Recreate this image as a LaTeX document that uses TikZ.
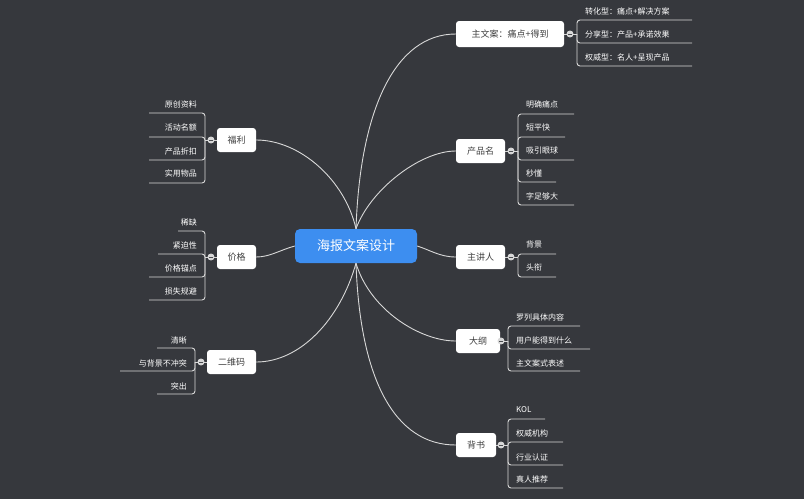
\documentclass[tikz,border=0pt]{standalone}
\usepackage{fontspec}
\setmainfont{Noto Sans CJK SC}
\definecolor{bg}{HTML}{36383D}
\definecolor{ln}{HTML}{D8D8D8}
\definecolor{cb}{HTML}{3D8EF0}
\tikzset{
 topic/.style={draw=none,fill=white,rounded corners=3pt,text=black!75,font=\fontsize{9}{10}\selectfont,inner xsep=0pt,inner ysep=0pt},
 leaf/.style={text=white,font=\fontsize{8}{9}\selectfont,inner sep=0pt},
 wire/.style={draw=ln,line width=0.9pt},
 knob/.style={circle,draw=ln,fill=ln,line width=0.9pt,minimum size=6pt,inner sep=0pt}
}
\newcommand{\rch}[6]{\node[leaf,anchor=west] (r#6) at (#1+8,#3) {#6};
 \draw[wire,rounded corners=3pt] (#1,#2) -- (#1,#4) -- (#5,#4);}
\newcommand{\lch}[6]{\node[leaf,anchor=east] (l#6) at (#1-8,#3) {#6};
 \draw[wire,rounded corners=3pt] (#1,#2) -- (#1,#4) -- (#5,#4);}
\newcommand{\knobat}[2]{\node[knob] (k#1#2) at (#1,#2) {}; \draw[bg!90,line width=0.8pt] (#1-1.8,#2) -- (#1+1.8,#2);}
\begin{document}
\begin{tikzpicture}[x=1pt,y=-1pt]
\fill[bg] (0,0) rectangle (804,499);
\useasboundingbox (0,0) rectangle (804,499);
\node[fill=cb,rounded corners=5pt,text=white,font=\fontsize{13}{15}\selectfont,minimum width=122pt,minimum height=34pt,inner sep=0pt] (c) at (356,246) {海报文案设计};
% topics
\node[topic,minimum width=108pt,minimum height=26pt] (t1) at (510,34) {主文案：痛点+得到};
\node[topic,minimum width=49pt,minimum height=24pt] (t2) at (480.5,151) {产品名};
\node[topic,minimum width=49pt,minimum height=24pt] (t3) at (480.5,257) {主讲人};
\node[topic,minimum width=44pt,minimum height=24pt] (t4) at (478,341) {大纲};
\node[topic,minimum width=40pt,minimum height=24pt] (t5) at (476,445) {背书};
\node[topic,minimum width=39pt,minimum height=24pt] (t6) at (236.5,140) {福利};
\node[topic,minimum width=39pt,minimum height=24pt] (t7) at (236.5,257) {价格};
\node[topic,minimum width=49pt,minimum height=24pt] (t8) at (231.5,362) {二维码};
% main curves
\draw[wire] (c.north) .. controls (360,110) and (395,34) .. (t1.west);
\draw[wire] (c.north) .. controls (370,190) and (420,151) .. (t2.west);
\draw[wire] (c.east) .. controls (430,250) and (440,257) .. (t3.west);
\draw[wire] (c.south) .. controls (370,310) and (420,341) .. (t4.west);
\draw[wire] (c.south) .. controls (360,380) and (395,445) .. (t5.west);
\draw[wire] (c.north) .. controls (345,180) and (300,140) .. (t6.east);
\draw[wire] (c.west) .. controls (280,250) and (270,257) .. (t7.east);
\draw[wire] (c.south) .. controls (340,320) and (300,362) .. (t8.east);
% right children
\draw[wire] (t1.east) -- (577,34);
\rch{577}{34}{11}{20}{692}{转化型：痛点+解决方案}
\rch{577}{34}{34}{43}{692}{分享型：产品+承诺效果}
\rch{577}{34}{57}{66}{692}{权威型：名人+呈现产品}
\knobat{570}{34}
\draw[wire] (t2.east) -- (518,151);
\rch{518}{151}{104}{114}{574}{明确痛点}
\rch{518}{151}{127}{137}{565}{短平快}
\rch{518}{151}{150}{160}{574}{吸引眼球}
\rch{518}{151}{173}{182}{556}{秒懂}
\rch{518}{151}{196}{205}{574}{字足够大}
\knobat{511}{151}
\draw[wire] (t3.east) -- (518,257);
\rch{518}{257}{244}{254}{556}{背景}
\rch{518}{257}{267}{277}{556}{头衔}
\knobat{511}{257}
\draw[wire] (t4.east) -- (508,341);
\rch{508}{341}{317}{326}{580}{罗列具体内容}
\rch{508}{341}{340}{349}{590}{用户能得到什么}
\rch{508}{341}{363}{371}{580}{主文案式表述}
\knobat{501}{341}
\draw[wire] (t5.east) -- (508,445);
\rch{508}{445}{410}{419}{545}{KOL}
\rch{508}{445}{433}{442}{563}{权威机构}
\rch{508}{445}{457}{465}{563}{行业认证}
\rch{508}{445}{479}{488}{563}{真人推荐}
\knobat{501}{445}
% left children
\draw[wire] (t6.west) -- (205,140);
\lch{205}{140}{104}{113}{149}{原创资料}
\lch{205}{140}{127}{137}{149}{活动名额}
\lch{205}{140}{151}{160}{149}{产品折扣}
\lch{205}{140}{173}{183}{149}{实用物品}
\knobat{211}{140}
\draw[wire] (t7.west) -- (205,257);
\lch{205}{257}{222}{231}{178}{稀缺}
\lch{205}{257}{245}{254}{158}{紧迫性}
\lch{205}{257}{268}{277}{149}{价格锚点}
\lch{205}{257}{291}{300}{149}{损失规避}
\knobat{211}{257}
\draw[wire] (t8.west) -- (195,362);
\lch{195}{362}{340}{348}{157}{清晰}
\lch{195}{362}{363}{371}{120}{与背景不冲突}
\lch{195}{362}{386}{394}{157}{突出}
\knobat{201}{362}
\end{tikzpicture}
\end{document}
